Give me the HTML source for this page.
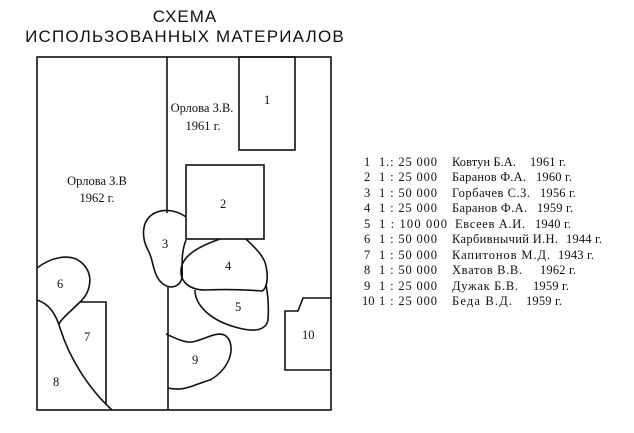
<!DOCTYPE html>
<html><head><meta charset="utf-8"><style>
body{margin:0;background:#fff;}
svg{display:block}
text{font-family:"Liberation Serif",serif;fill:#111}
</style></head><body>
<svg width="634" height="433" viewBox="0 0 634 433" xmlns="http://www.w3.org/2000/svg">
<text x="185" y="22" font-size="17" text-anchor="middle" style="font-family:'Liberation Sans',sans-serif" letter-spacing="1">СХЕМА</text>
<text x="185" y="42" font-size="17" text-anchor="middle" style="font-family:'Liberation Sans',sans-serif" letter-spacing="1.2">ИСПОЛЬЗОВАННЫХ МАТЕРИАЛОВ</text>
<g fill="none" stroke="#111" stroke-width="1.6">
<rect x="37" y="57" width="294" height="353"/>
<line x1="167" y1="57" x2="167" y2="213"/>
<line x1="168" y1="287" x2="168" y2="410"/>
<rect x="239" y="57" width="56" height="93"/>
<rect x="186" y="165" width="78" height="74"/>
<path d="M186,217 C178,211 165,208 155,213 C140,220 142,240 148,250 C154,260 152,275 163,284 C172,290 180,286 182,278 C183,270 180,255 186,240"/>
<path d="M220,239 C200,246 182,255 181,270 C180,282 190,290 205,290 C230,289 250,290 262,291 C268,288 268,275 266,266 C264,255 252,245 246,239"/>
<path d="M195,290 C195,305 210,320 235,327 C255,333 266,330 268,320 C269,305 268,295 266,285"/>
<path d="M37,268 C50,258 70,252 82,263 C95,275 90,293 80,302 C70,312 62,318 59,324"/>
<polyline points="80,302 106,302 106,404"/>
<path d="M37,300 C50,304 56,315 60,328 C70,360 90,390 112,410"/>
<path d="M166,334 C175,338 185,343 192,342 C205,340 220,328 228,338 C236,350 228,370 210,380 C195,384 185,392 168,388"/>
<polyline points="331,298 303,298 298,311 285,311 285,370 331,370"/>
</g>
<g font-size="12.5">
<text x="202" y="112" text-anchor="middle">Орлова З.В.</text>
<text x="203" y="130" text-anchor="middle">1961 г.</text>
<text x="97" y="185" text-anchor="middle">Орлова З.В</text>
<text x="97" y="202" text-anchor="middle">1962 г.</text>
<text x="264" y="104">1</text>
<text x="220" y="208">2</text>
<text x="162" y="248">3</text>
<text x="225" y="270">4</text>
<text x="235" y="311">5</text>
<text x="57" y="288">6</text>
<text x="84" y="341">7</text>
<text x="53" y="386">8</text>
<text x="192" y="364">9</text>
<text x="302" y="339">10</text>
</g>
<g font-size="12.5">
<text x="364" y="166">1</text><text x="379" y="166" textLength="58">1.: 25 000</text><text x="452" y="166" textLength="64">Ковтун Б.А.</text><text x="530" y="166" textLength="36">1961 г.</text>
<text x="364" y="181">2</text><text x="379" y="181" textLength="58">1 : 25 000</text><text x="452" y="181" textLength="74">Баранов Ф.А.</text><text x="536" y="181" textLength="36">1960 г.</text>
<text x="364" y="197">3</text><text x="379" y="197" textLength="58">1 : 50 000</text><text x="452" y="197" textLength="78">Горбачев С.З.</text><text x="540" y="197" textLength="36">1956 г.</text>
<text x="364" y="212">4</text><text x="379" y="212" textLength="58">1 : 25 000</text><text x="452" y="212" textLength="75">Баранов Ф.А.</text><text x="537" y="212" textLength="36">1959 г.</text>
<text x="364" y="228">5</text><text x="379" y="228" textLength="68">1 : 100 000</text><text x="455" y="228" textLength="70">Евсеев А.И.</text><text x="535" y="228" textLength="36">1940 г.</text>
<text x="364" y="243">6</text><text x="379" y="243" textLength="58">1 : 50 000</text><text x="452" y="243" textLength="106">Карбивнычий И.Н.</text><text x="566" y="243" textLength="36">1944 г.</text>
<text x="364" y="259">7</text><text x="379" y="259" textLength="58">1 : 50 000</text><text x="452" y="259" textLength="98">Капитонов М.Д.</text><text x="558" y="259" textLength="36">1943 г.</text>
<text x="364" y="274">8</text><text x="379" y="274" textLength="58">1 : 50 000</text><text x="452" y="274" textLength="70">Хватов В.В.</text><text x="540" y="274" textLength="36">1962 г.</text>
<text x="364" y="290">9</text><text x="379" y="290" textLength="58">1 : 25 000</text><text x="452" y="290" textLength="66">Дужак Б.В.</text><text x="533" y="290" textLength="36">1959 г.</text>
<text x="362" y="305">10</text><text x="379" y="305" textLength="58">1 : 25 000</text><text x="452" y="305" textLength="60">Беда В.Д.</text><text x="526" y="305" textLength="36">1959 г.</text>
</g>
</svg>
</body></html>
